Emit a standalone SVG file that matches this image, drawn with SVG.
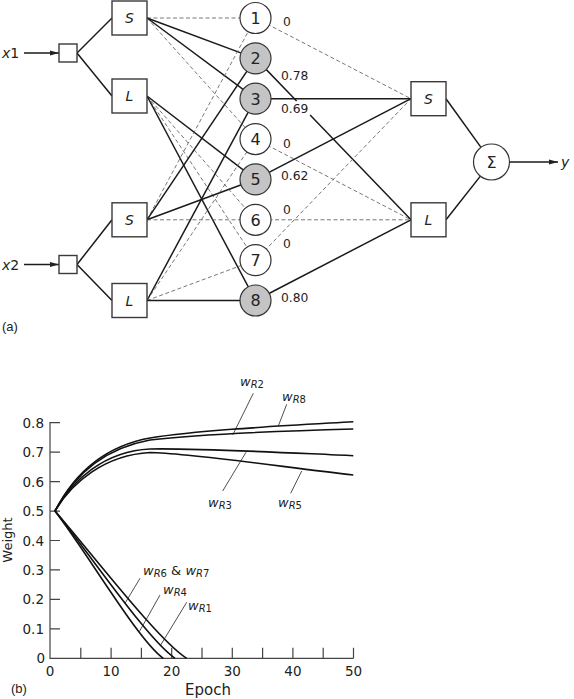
<svg xmlns="http://www.w3.org/2000/svg" width="574" height="699" viewBox="0 0 574 699">
<style>
text{font-family:"DejaVu Sans","Liberation Sans",sans-serif;fill:#222}
.box{fill:#fff;stroke:#3a3a3a;stroke-width:1.4}
.cw{fill:#fff;stroke:#333;stroke-width:1.2}
.cg{fill:#c4c4c4;stroke:#333;stroke-width:1.2}
.sol{stroke:#1a1a1a;stroke-width:1.5;fill:none}
.das{stroke:#555;stroke-width:0.8;stroke-dasharray:4 2.5;fill:none}
.bl{font-size:14px;font-style:italic;text-anchor:middle}
.cn{font-size:16px;text-anchor:middle}
.wt{font-size:12.3px}
.crv{stroke:#111;stroke-width:1.6;fill:none}
.lead{stroke:#222;stroke-width:0.8;fill:none}
.ax{stroke:#444;stroke-width:1.2;fill:none}
.tk{font-size:13.5px}
.wl{font-size:13px}
.sub{font-size:10px}
</style>
<defs>
<marker id="ah" markerWidth="10" markerHeight="6" refX="9" refY="3" orient="auto" markerUnits="userSpaceOnUse"><path d="M0,0.5 L9,3 L0,5.5 z" fill="#222"/></marker>
</defs>

<g id="connectors">
<line x1="24" y1="53" x2="59" y2="53" class="sol" stroke-width="1.2" marker-end="url(#ah)"/>
<line x1="24" y1="264.5" x2="59" y2="264.5" class="sol" stroke-width="1.2" marker-end="url(#ah)"/>
<line x1="77" y1="53" x2="112" y2="18" class="sol"/>
<line x1="77" y1="53" x2="112" y2="96" class="sol"/>
<line x1="77" y1="264.5" x2="112" y2="219.8" class="sol"/>
<line x1="77" y1="264.5" x2="112" y2="300.5" class="sol"/>
<!-- S1 -->
<line x1="147" y1="18" x2="255.5" y2="18" class="das"/>
<line x1="147" y1="18" x2="255.5" y2="58.36" class="sol"/>
<line x1="147" y1="18" x2="255.5" y2="98.71" class="sol"/>
<line x1="147" y1="18" x2="255.5" y2="139.07" class="das"/>
<!-- L1 -->
<line x1="147" y1="96" x2="255.5" y2="179.43" class="sol"/>
<line x1="147" y1="96" x2="255.5" y2="219.79" class="das"/>
<line x1="147" y1="96" x2="255.5" y2="260.14" class="das"/>
<line x1="147" y1="96" x2="255.5" y2="300.5" class="sol"/>
<!-- S2 -->
<line x1="147" y1="219.8" x2="255.5" y2="18" class="das"/>
<line x1="147" y1="219.8" x2="255.5" y2="58.36" class="sol"/>
<line x1="147" y1="219.8" x2="255.5" y2="179.43" class="sol"/>
<line x1="147" y1="219.8" x2="255.5" y2="219.79" class="das"/>
<!-- L2 -->
<line x1="147" y1="300.5" x2="255.5" y2="98.71" class="sol"/>
<line x1="147" y1="300.5" x2="255.5" y2="139.07" class="das"/>
<line x1="147" y1="300.5" x2="255.5" y2="260.14" class="das"/>
<line x1="147" y1="300.5" x2="255.5" y2="300.5" class="sol"/>
<!-- rules to outputs -->
<line x1="255.5" y1="18" x2="411" y2="98.7" class="das"/>
<path d="M255.5,58.36 L296.6,101 M310.1,115 L411,219.8" class="sol"/>
<line x1="255.5" y1="98.71" x2="411" y2="98.7" class="sol"/>
<line x1="255.5" y1="139.07" x2="411" y2="219.8" class="das"/>
<line x1="255.5" y1="179.43" x2="411" y2="98.7" class="sol"/>
<line x1="255.5" y1="219.79" x2="411" y2="219.8" class="das"/>
<line x1="255.5" y1="260.14" x2="411" y2="98.7" class="das"/>
<line x1="255.5" y1="300.5" x2="411" y2="219.8" class="sol"/>
<line x1="446" y1="98.7" x2="481" y2="147.4" class="sol" stroke-width="1.3"/>
<line x1="446" y1="219.8" x2="480.4" y2="176.1" class="sol" stroke-width="1.3"/>
<line x1="509.5" y1="162" x2="558" y2="162" class="sol" stroke-width="1.2" marker-end="url(#ah)"/>
</g>

<g id="in1"><rect x="59" y="44" width="18" height="18" class="box"/><text x="2" y="58" font-size="14"><tspan font-style="italic">x</tspan>1</text></g>
<g id="in2"><rect x="59" y="255.5" width="18" height="18" class="box"/><text x="2" y="270" font-size="14"><tspan font-style="italic">x</tspan>2</text></g>
<g id="S1"><rect x="112" y="1" width="35" height="34" class="box"/><text x="129.5" y="23" class="bl">S</text></g>
<g id="L1"><rect x="112" y="79" width="35" height="34" class="box"/><text x="129.5" y="101" class="bl">L</text></g>
<g id="S2"><rect x="112" y="202.8" width="35" height="34" class="box"/><text x="129.5" y="225" class="bl">S</text></g>
<g id="L2"><rect x="112" y="283.5" width="35" height="34" class="box"/><text x="129.5" y="305.5" class="bl">L</text></g>

<g id="R1"><circle cx="255.5" cy="18" r="15.5" class="cw"/><text x="255.5" y="23.8" class="cn">1</text><text x="283" y="26" class="wt">0</text></g>
<g id="R2"><circle cx="255.5" cy="58.36" r="15.5" class="cg"/><text x="255.5" y="64.2" class="cn">2</text><text x="281" y="80" class="wt">0.78</text></g>
<g id="R3"><circle cx="255.5" cy="98.71" r="15.5" class="cg"/><text x="255.5" y="104.5" class="cn">3</text><text x="281" y="112.5" class="wt">0.69</text></g>
<g id="R4"><circle cx="255.5" cy="139.07" r="15.5" class="cw"/><text x="255.5" y="144.9" class="cn">4</text><text x="283" y="148" class="wt">0</text></g>
<g id="R5"><circle cx="255.5" cy="179.43" r="15.5" class="cg"/><text x="255.5" y="185.2" class="cn">5</text><text x="281" y="179.5" class="wt">0.62</text></g>
<g id="R6"><circle cx="255.5" cy="219.79" r="15.5" class="cw"/><text x="255.5" y="225.6" class="cn">6</text><text x="283" y="214" class="wt">0</text></g>
<g id="R7"><circle cx="255.5" cy="260.14" r="15.5" class="cw"/><text x="255.5" y="265.9" class="cn">7</text><text x="283" y="248" class="wt">0</text></g>
<g id="R8"><circle cx="255.5" cy="300.5" r="15.5" class="cg"/><text x="255.5" y="306.3" class="cn">8</text><text x="281" y="302" class="wt">0.80</text></g>

<g id="OS"><rect x="411" y="81.7" width="35" height="34" class="box"/><text x="428.5" y="104" class="bl">S</text></g>
<g id="OL"><rect x="411" y="202.8" width="35" height="34" class="box"/><text x="428.5" y="225" class="bl">L</text></g>
<g id="sum"><circle cx="491.5" cy="162" r="18" class="cw"/><text x="491.5" y="168" font-size="16" text-anchor="middle">Σ</text></g>
<g id="out"><text x="561" y="167" font-size="14" font-style="italic">y</text></g>
<text x="2" y="331" font-size="13" style="font-family:'Liberation Sans',sans-serif">(a)</text>

<g id="plot">
<path class="ax" d="M60,422.7 H50 V658.3 H353.5"/>
<path class="ax" stroke-width="1" d="M50,628.85h10 M50,599.4h10 M50,569.95h10 M50,540.5h10 M50,511.05h10 M50,481.6h10 M50,452.15h10
M80.8,658.3v-10.5 M111.1,658.3v-10.5 M141.4,658.3v-10.5 M171.7,658.3v-10.5 M202,658.3v-10.5 M232.3,658.3v-10.5 M262.6,658.3v-10.5 M292.9,658.3v-10.5 M323.2,658.3v-10.5 M353.5,658.3v-10.5"/>
<g class="tk" text-anchor="end">
<text x="45" y="663.3">0</text>
<text x="44" y="633.8">0.1</text>
<text x="44" y="604.4">0.2</text>
<text x="44" y="574.9">0.3</text>
<text x="44" y="545.5">0.4</text>
<text x="44" y="516">0.5</text>
<text x="44" y="486.6">0.6</text>
<text x="44" y="457.1">0.7</text>
<text x="44" y="427.7">0.8</text>
</g>
<g class="tk" text-anchor="middle">
<text x="50" y="676">0</text>
<text x="111.1" y="676">10</text>
<text x="171.7" y="676">20</text>
<text x="232.3" y="676">30</text>
<text x="292.9" y="676">40</text>
<text x="353.5" y="676">50</text>
</g>
<text x="208" y="695" font-size="15" text-anchor="middle">Epoch</text>
<text x="12" y="540" font-size="13" text-anchor="middle" transform="rotate(-90 12 540)">Weight</text>
<text x="11" y="693" font-size="13" style="font-family:'Liberation Sans',sans-serif">(b)</text>

<path class="crv" d="M55,511 C72,478 100,447 150,438 C200,430 280,426 353.3,421.7"/>
<path class="crv" d="M55,511 C72,479 100,449 150,440 C200,434 280,431 353.3,429"/>
<path class="crv" d="M55,511 C72,480 105,451 150,449 C200,448 290,453 353.3,455.7"/>
<path class="crv" d="M55,511 C72,482 105,455 150,452.5 C190,453 290,468 353.3,475"/>
<path class="crv" d="M55,511 C90,557 138,640 163.3,658.3"/>
<path class="crv" d="M55,511 C92,557 148,640 175,658.3"/>
<path class="crv" d="M55,511 C94,556 158,640 186.7,658.3"/>

<path class="lead" d="M253.3,393.3 L232.7,435 M286.7,404.3 L278.3,426 M222.7,491 L246,452.3 M290.7,493.3 L301.7,471 M140,578.3 L125,603.3 M160,595 L139.3,631.7 M186.7,602.3 L160.7,645"/>

<text class="wl" x="240" y="386"><tspan font-style="italic">w</tspan><tspan class="sub" font-style="italic" dy="1.5">R</tspan><tspan class="sub">2</tspan></text>
<text class="wl" x="282" y="401"><tspan font-style="italic">w</tspan><tspan class="sub" font-style="italic" dy="1.5">R</tspan><tspan class="sub">8</tspan></text>
<text class="wl" x="208" y="507"><tspan font-style="italic">w</tspan><tspan class="sub" font-style="italic" dy="1.5">R</tspan><tspan class="sub">3</tspan></text>
<text class="wl" x="278" y="507"><tspan font-style="italic">w</tspan><tspan class="sub" font-style="italic" dy="1.5">R</tspan><tspan class="sub">5</tspan></text>
<text class="wl" x="143" y="575"><tspan font-style="italic">w</tspan><tspan class="sub" font-style="italic" dy="1.5">R</tspan><tspan class="sub">6</tspan><tspan dy="-1.5"> &amp; </tspan><tspan font-style="italic">w</tspan><tspan class="sub" font-style="italic" dy="1.5">R</tspan><tspan class="sub">7</tspan></text>
<text class="wl" x="163" y="594"><tspan font-style="italic">w</tspan><tspan class="sub" font-style="italic" dy="1.5">R</tspan><tspan class="sub">4</tspan></text>
<text class="wl" x="188" y="610"><tspan font-style="italic">w</tspan><tspan class="sub" font-style="italic" dy="1.5">R</tspan><tspan class="sub">1</tspan></text>
</g>
</svg>
